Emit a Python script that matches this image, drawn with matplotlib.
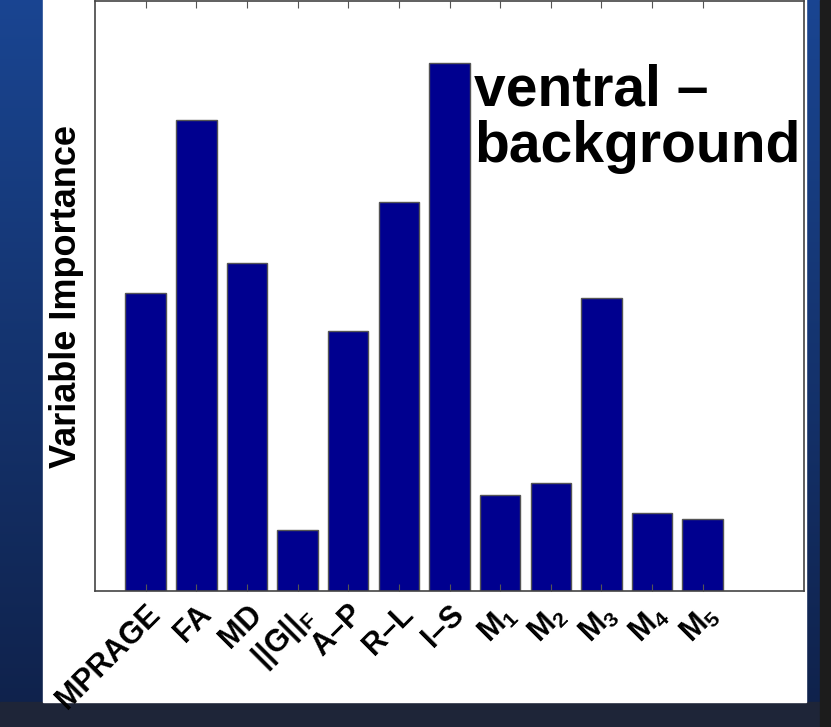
import numpy as np
import matplotlib
matplotlib.use('Agg')
import matplotlib.pyplot as plt
from matplotlib.patches import Rectangle

plt.rcParams['font.family'] = ['Liberation Sans', 'DejaVu Sans']
plt.rcParams['font.weight'] = 'bold'
plt.rcParams['mathtext.fontset'] = 'custom'
plt.rcParams['mathtext.rm'] = 'Liberation Sans:bold'
plt.rcParams['mathtext.it'] = 'Liberation Sans:bold'
plt.rcParams['mathtext.bf'] = 'Liberation Sans:bold'

labels = ['MPRAGE', 'FA', 'MD', '||G||$_F$', 'A\u2013P', 'R\u2013L', 'I\u2013S',
          'M$_1$', 'M$_2$', 'M$_3$', 'M$_4$', 'M$_5$']
importance = [2.99, 4.72, 3.29, 0.61, 2.60, 3.90, 5.29, 0.96, 1.08, 2.93, 0.78, 0.72]

fig = plt.figure(figsize=(8.31, 7.27), dpi=100)

# slide background
bg = fig.add_axes([0, 0, 1, 1])
bg.set_axis_off()
t = np.linspace(0, 1, 256).reshape(-1, 1)
top = np.array([0.10, 0.27, 0.57])
bot = np.array([0.06, 0.13, 0.29])
grad = (top * (1 - t) + bot * t)[:, None, :] * np.ones((1, 2, 1))
bg.imshow(grad, aspect='auto', extent=[0, 1, 0, 1])
bg.add_patch(Rectangle((0, 0), 1, 0.034, color='#1e2538'))
bg.add_patch(Rectangle((820 / 831, 0), 11 / 831, 1, color='#1c1c1c'))
bg.add_patch(Rectangle((43 / 831, 25 / 727), (806 - 43) / 831, 1, color='white'))
bg.set_xlim(0, 1)
bg.set_ylim(0, 1)

ax = fig.add_axes([95 / 831, 136 / 727, (804 - 95) / 831, (591 - 1) / 727])
x = np.arange(1, len(labels) + 1)
ax.bar(x, importance, width=0.8, color='#00008F', edgecolor='#555555', linewidth=1)
ax.set_xlim(0, 14)
ax.set_ylim(0, 5.91)
ax.set_yticks([])
ax.set_xticks(x)
ax.set_xticklabels(labels, rotation=45, ha='right', va='top', rotation_mode='anchor',
                   fontsize=22, fontweight='bold')
ax.tick_params(axis='x', direction='in', top=True, length=5, width=0.8, color='#555555', pad=6)
for s in ax.spines.values():
    s.set_color('#444444')
    s.set_linewidth(1.2)
ax.set_ylabel('Variable Importance', fontsize=26, fontweight='bold', labelpad=8)
ax.text(0.535, 0.80, 'ventral \u2013\nbackground', transform=ax.transAxes,
        fontsize=41, fontweight='bold', va='center', ha='left', linespacing=1.05)

fig.savefig('out.png', dpi=100)
